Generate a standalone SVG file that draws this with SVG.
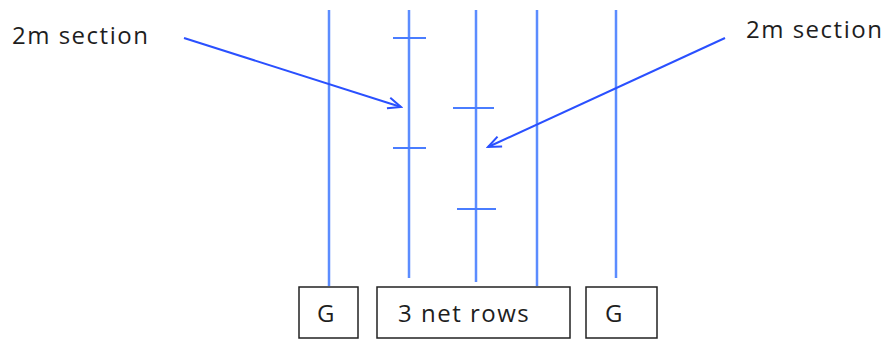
<svg xmlns="http://www.w3.org/2000/svg" width="889" height="340" viewBox="0 0 889 340">
<defs>
<style>
.row{stroke:#5b8cff;stroke-width:2.5;fill:none}
.tick{stroke:#4a7dff;stroke-width:1.8}
.arr{stroke:#2a50ff;stroke-width:2;fill:none}
.box{fill:#fff;stroke:#222;stroke-width:1.5}
.t{font-family:"Open Sans","Liberation Sans",sans-serif;font-size:24px;letter-spacing:1.5px;fill:#1e1e1e}
</style>
<marker id="ah" markerWidth="16" markerHeight="14" refX="14" refY="7" orient="auto" markerUnits="userSpaceOnUse">
<path d="M1,1.5 L14,7 L1,12.5" fill="none" stroke="#2a50ff" stroke-width="2"/>
</marker>
</defs>
<rect width="889" height="340" fill="#fff"/>
<g id="rows">
<line class="row" x1="329" y1="10" x2="329" y2="286"/>
<line class="row" x1="409" y1="10" x2="409" y2="278"/>
<line class="row" x1="476" y1="10" x2="476" y2="282"/>
<line class="row" x1="537" y1="10" x2="537" y2="286"/>
<line class="row" x1="616" y1="10" x2="616" y2="278"/>
<line class="tick" x1="393" y1="38" x2="426" y2="38"/>
<line class="tick" x1="393" y1="148" x2="426" y2="148"/>
<line class="tick" x1="453" y1="108" x2="494" y2="108"/>
<line class="tick" x1="457" y1="209" x2="496" y2="209"/>
</g>
<g id="label-left"><text class="t" x="12" y="43.5">2m section</text></g>
<g id="label-right"><text class="t" x="746" y="38">2m section</text></g>
<g id="connectors">
<line class="arr" x1="184" y1="38" x2="401" y2="107" marker-end="url(#ah)"/>
<line class="arr" x1="725" y1="38" x2="488" y2="147" marker-end="url(#ah)"/>
</g>
<g id="g-left"><rect class="box" x="299" y="287" width="59" height="51"/><text class="t" x="317" y="321.5">G</text></g>
<g id="net-rows"><rect class="box" x="377" y="287" width="193" height="51"/><text class="t" x="398" y="321.5">3 net rows</text></g>
<g id="g-right"><rect class="box" x="586" y="287" width="71" height="51"/><text class="t" x="605" y="321.5">G</text></g>
</svg>
